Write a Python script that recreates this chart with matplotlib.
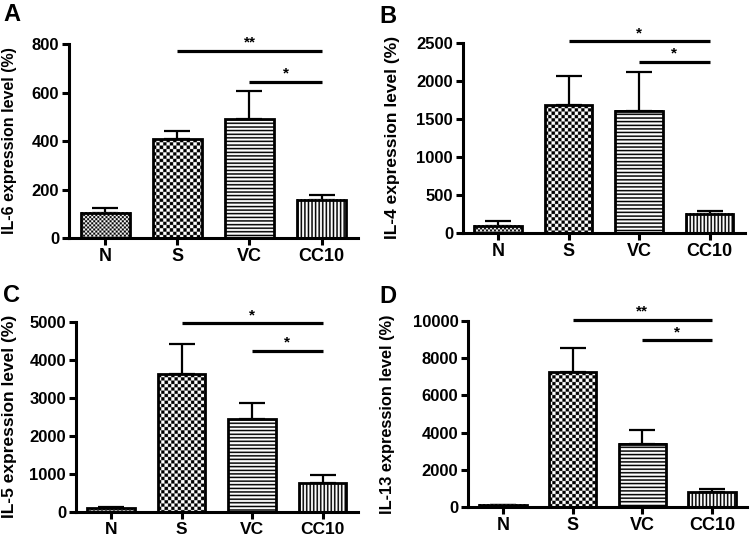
import numpy as np
import matplotlib
matplotlib.use("Agg")
import matplotlib.pyplot as plt

plt.rcParams['font.family'] = ['Liberation Sans', 'DejaVu Sans']
plt.rcParams['font.weight'] = 'bold'

groups = ["N", "S", "VC", "CC10"]

# panel A: IL-6
il6_mean = [104, 407, 489, 157]
il6_err = [21, 34, 117, 20]
# panel B: IL-4
il4_mean = [96, 1681, 1603, 250]
il4_err = [62, 386, 512, 43]
# panel C: IL-5
il5_mean = [95, 3611, 2439, 760]
il5_err = [15, 803, 419, 202]
# panel D: IL-13
il13_mean = [110, 7254, 3411, 790]
il13_err = [20, 1310, 754, 180]

# significance bars: (from group, to group, height, label)
sig_a = [(1, 3, 771, "**"), (2, 3, 645, "*")]
sig_b = [(1, 3, 2517, "*"), (2, 3, 2247, "*")]
sig_c = [(1, 3, 4956, "*"), (2, 3, 4240, "*")]
sig_d = [(1, 3, 10050, "**"), (2, 3, 8958, "*")]

# texture per group: (kind, period in px)
textures = [("checker", 2.0), ("checker", 3.3), ("hstripe", 3.6), ("vstripe", 3.5)]


def make_texture(kind, period, w_px, h_px, s=4):
    W = max(int(round(w_px * s)), 1)
    H = max(int(round(h_px * s)), 1)
    xs = (np.arange(W) + 0.5) / s
    ys = (np.arange(H) + 0.5) / s
    X, Y = np.meshgrid(xs, ys)
    if kind == "checker":
        return ((np.floor(X / period) + np.floor(Y / period)) % 2).astype(float)
    if kind == "hstripe":
        return ((Y % period) > 1.5).astype(float)
    return ((X % period) > 1.5).astype(float)


def panel(fig, rect, letter, letter_xy, means, errs, ymax, yticks, ylabel,
          sigs, label_x, ylabel_size, xlab_size=13):
    ax = fig.add_axes(rect)
    x = np.arange(len(groups))
    width = 0.68
    ax.set_xlim(-0.5, 3.5)
    ax.set_ylim(0, ymax)

    bb = ax.get_window_extent()
    px_per_x = bb.width / 4.0
    px_per_y = bb.height / ymax
    for i, (m, (kind, per)) in enumerate(zip(means, textures)):
        tex = make_texture(kind, per, width * px_per_x, m * px_per_y)
        ax.imshow(tex, cmap="gray", vmin=0, vmax=1, aspect="auto",
                  extent=(x[i] - width / 2, x[i] + width / 2, 0, m),
                  interpolation="antialiased", zorder=2)
    ax.set_xlim(-0.5, 3.5)
    ax.set_ylim(0, ymax)

    ax.errorbar(x, means, yerr=[np.zeros(len(errs)), errs], fmt="none",
                ecolor="black", elinewidth=1.6, capsize=9.4, capthick=1.6,
                zorder=1.5, clip_on=False)
    ax.bar(x, means, width, facecolor="none", edgecolor="black",
           linewidth=2.0, zorder=3, clip_on=False)

    for a, b, h, lab in sigs:
        ax.plot([a, b], [h, h], color="black", lw=2.3, clip_on=False,
                solid_capstyle="butt")
        ax.annotate(lab, ((a + b) / 2, h), xytext=(0, 1),
                    textcoords="offset points", ha="center", va="bottom",
                    fontsize=11, annotation_clip=False)

    for side in ("top", "right"):
        ax.spines[side].set_visible(False)
    for side in ("left", "bottom"):
        ax.spines[side].set_linewidth(2.2)
    ax.set_xticks(x)
    ax.set_xticklabels(groups, fontsize=xlab_size, fontweight="bold")
    ax.set_yticks(yticks)
    ax.tick_params(axis="both", length=5, width=2.2, direction="out")
    ax.tick_params(axis="y", labelsize=12, pad=2)
    ax.tick_params(axis="x", pad=2.5)
    ax.set_ylabel(ylabel, fontsize=ylabel_size, fontweight="bold")
    ax.yaxis.set_label_coords(label_x, 0.5)
    fig.text(letter_xy[0], letter_xy[1], letter, fontsize=17,
             fontweight="bold", ha="left", va="top")
    return ax


fig = plt.figure(figsize=(7.5, 5.38), dpi=100)

panel(fig, [0.092, 0.5576, 0.385, 0.3606], "A", (0.004, 0.995),
      il6_mean, il6_err, 800, [0, 200, 400, 600, 800],
      "IL-6 expression level (%)", sig_a, -0.18, 11.5)
panel(fig, [0.617, 0.5669, 0.376, 0.3537], "B", (0.506, 0.99),
      il4_mean, il4_err, 2500, [0, 500, 1000, 1500, 2000, 2500],
      "IL-4 expression level (%)", sig_b, -0.223, 12.5)
panel(fig, [0.101, 0.049, 0.376, 0.353], "C", (0.004, 0.472),
      il5_mean, il5_err, 5000, [0, 1000, 2000, 3000, 4000, 5000],
      "IL-5 expression level (%)", sig_c, -0.21, 12.5, xlab_size=12.5)
panel(fig, [0.624, 0.0576, 0.372, 0.3457], "D", (0.506, 0.47),
      il13_mean, il13_err, 10000, [0, 2000, 4000, 6000, 8000, 10000],
      "IL-13 expression level (%)", sig_d, -0.262, 11.8)

fig.savefig("out.png", dpi=100)
